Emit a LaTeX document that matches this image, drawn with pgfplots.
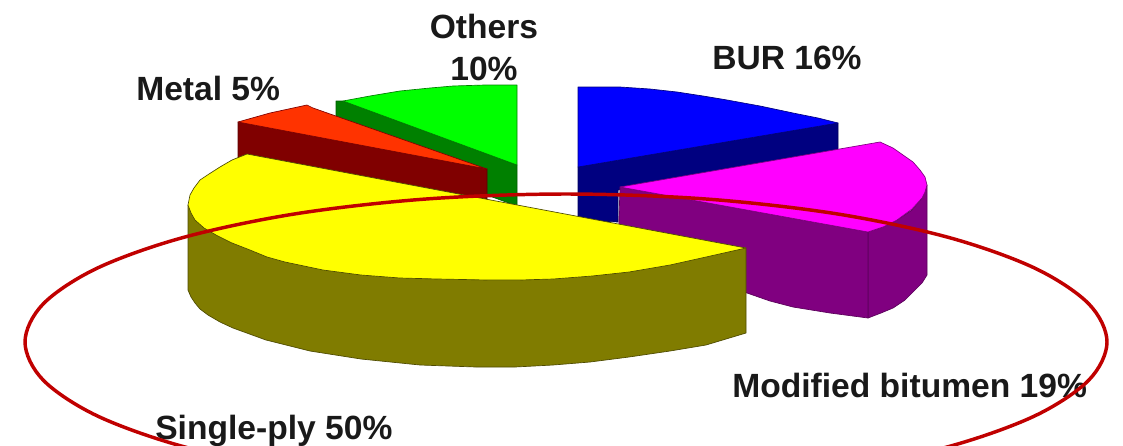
\documentclass[border=0pt]{standalone}
\usepackage{fontspec}
\setmainfont{Liberation Sans}
\usepackage{pgfplots}
\pgfplotsset{compat=1.18}
\definecolor{gtop}{RGB}{0,255,0}
\definecolor{gside}{RGB}{0,128,0}
\definecolor{btop}{RGB}{0,0,255}
\definecolor{bside}{RGB}{0,0,128}
\definecolor{rtop}{RGB}{255,51,0}
\definecolor{rside}{RGB}{128,0,0}
\definecolor{mtop}{RGB}{255,0,255}
\definecolor{mside}{RGB}{128,0,128}
\definecolor{ytop}{RGB}{255,255,0}
\definecolor{yside}{RGB}{128,124,0}
\definecolor{ring}{RGB}{192,0,0}
\definecolor{lab}{RGB}{25,25,25}
\begin{document}
\begin{tikzpicture}
\begin{axis}[
  scale only axis, width=842.25pt, height=333.75pt,
  xmin=0, xmax=1123, ymin=0, ymax=445, y dir=reverse,
  axis line style={draw=none}, ticks=none,
  every axis plot post/.append style={line join=round},
]
% Others
\addplot[fill=gside, draw=gside!70!black, line width=0.5pt, mark=none] coordinates {(336,101)(343,101)(517,165)(517,206)(336,140)} -- cycle;
\addplot[fill=gtop, draw=gside, line width=0.5pt, mark=none] coordinates {(343,101)(370,96)(400,91)(430,88)(453,86)(485,85)(517,85)(517,165)} -- cycle;
% BUR
\addplot[fill=bside, draw=bside!70!black, line width=0.5pt, mark=none] coordinates {(578,167)(838,123)(838,150)(618,190)(618,222)(578,220)} -- cycle;
\addplot[fill=btop, draw=bside, line width=0.5pt, mark=none] coordinates {(578,87)(620,87)(650,89)(677,92)(703,96)(727,100)(760,106)(793,113)(818,118)(838,123)(578,167)} -- cycle;
% Metal
\addplot[fill=rside, draw=rside!70!black, line width=0.5pt, mark=none] coordinates {(238,122)(487,169)(487,199)(238,158)} -- cycle;
\addplot[fill=rtop, draw=rside, line width=0.5pt, mark=none] coordinates {(238,122)(270,113)(307,105)(313,108)(487,169)} -- cycle;
% Modified bitumen
\addplot[fill=mside, draw=mside!70!black, line width=0.5pt, mark=none] coordinates {(868,232)(883,227)(897,220)(912,210)(922,198)(927,185)(927,275)(922,283)(915,290)(905,300)(893,308)(881,313)(868,318)} -- cycle;
\addplot[fill=mside, draw=mside!70!black, line width=0.5pt, mark=none] coordinates {(620,187)(868,232)(868,318)(830,313)(793,307)(770,301)(747,293)(618,250)} -- cycle;
\addplot[fill=mtop, draw=mside, line width=0.5pt, mark=none] coordinates {(620,187)(880,142)(893,148)(903,155)(913,162)(920,170)(925,177)(927,185)(925,192)(922,198)(912,209)(897,220)(883,227)(868,232)} -- cycle;
% Single-ply
\addplot[fill=yside, draw=yside!60!black, line width=0.5pt, mark=none] coordinates {(188,205)(746,248)(746,333)(726,339)(706,345)(670,351)(629,357)(590,362)(553,365)(515,367)(476,367)(420,365)(361,359)(310,351)(266,340)(233,328)(220,322)(208,315)(200,309)(195,303)(191,297)(188,290)} -- cycle;
\addplot[fill=ytop, draw=yside!60!black, line width=0.5pt, mark=none] coordinates {(247,154)(232,160)(220,167)(209,174)(200,180)(194,188)(190,195)(188,205)(191,213)(195,220)(204,228)(216,235)(232,243)(250,250)(267,257)(285,262)(323,270)(361,275)(400,278)(438,279)(488,280)(520,280)(553,279)(592,276)(629,272)(670,265)(706,257)(746,248)(480,198)} -- cycle;
% Labels
\node[anchor=base, text=lab, font=\fontsize{25.2}{30}\selectfont\bfseries, inner sep=0pt] at (axis cs:484,38) {Others};
\node[anchor=base, text=lab, font=\fontsize{25.2}{30}\selectfont\bfseries, inner sep=0pt] at (axis cs:484,80) {10\%};
\node[anchor=base west, text=lab, font=\fontsize{25.2}{30}\selectfont\bfseries, inner sep=0pt] at (axis cs:712,69) {BUR 16\%};
\node[anchor=base west, text=lab, font=\fontsize{25.2}{30}\selectfont\bfseries, inner sep=0pt] at (axis cs:136,100) {Metal 5\%};
\node[anchor=base west, text=lab, font=\fontsize{25.2}{30}\selectfont\bfseries, inner sep=0pt] at (axis cs:732,397) {Modified bitumen 19\%};
\node[anchor=base west, text=lab, font=\fontsize{25.2}{30}\selectfont\bfseries, inner sep=0pt] at (axis cs:155,439) {Single-ply 50\%};
% Ring
\addplot[smooth cycle, tension=0.55, draw=ring, line width=2.6pt, mark=none] coordinates {(566,490)(706,485)(836.5,470.2)(948.5,446.6)(1034.5,416)(1088.6,380.3)(1107,342)(1088.6,303.7)(1034.5,268)(948.5,237.4)(836.5,213.8)(706,199)(566,194)(426,199)(295.5,213.8)(183.5,237.4)(97.5,268)(43.4,303.7)(25,342)(43.4,380.3)(97.5,416)(183.5,446.6)(295.5,470.2)(426,485)};
\end{axis}
\end{tikzpicture}
\end{document}
